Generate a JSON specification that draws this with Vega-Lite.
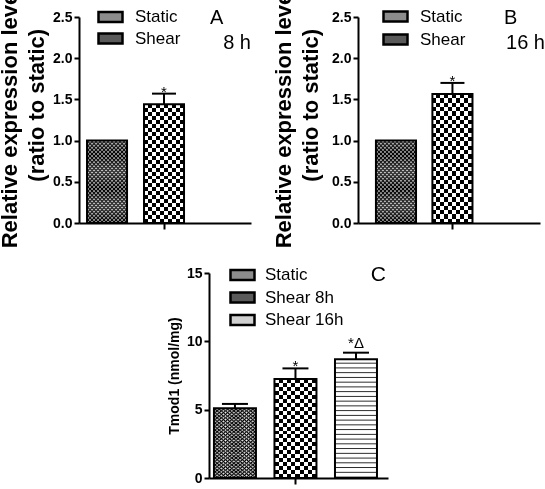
{
"$schema":"https://vega.github.io/schema/vega-lite/v6.json",
"padding":{"left":-2,"top":-14,"right":0,"bottom":0},
"background":"white",
"config":{
 "view":{"stroke":null},
 "font":"Liberation Sans",
 "axis":{"domainColor":"#000","domainWidth":2,"tickColor":"#000","tickWidth":2,"tickSize":5,"labelColor":"#000","labelFont":"Liberation Sans","labelFontWeight":"bold","labelFontSize":14,"labelPadding":2,"titleColor":"#000","titleFont":"Liberation Sans","titleFontWeight":"bold","grid":false,"labelOverlap":false},
 "legend":{"padding":0,"labelFont":"Liberation Sans","labelFontSize":17,"labelColor":"#000","symbolStrokeColor":"#000","symbolStrokeWidth":2.5,"symbolType":"M-2.4,-1H2.4V1H-2.4Z","symbolSize":100,"labelOffset":16,"rowPadding":2,"symbolOpacity":1}
},
"datasets":{
 "a":[{"group":"Static","value":1.0},{"group":"Shear","value":1.44,"upper":1.57,"sig":"*"}],
 "b":[{"group":"Static","value":1.0},{"group":"Shear","value":1.565,"upper":1.70,"sig":"*"}],
 "c":[{"group":"Static","value":5.1,"upper":5.42},{"group":"Shear 8h","value":7.24,"upper":8.02,"sig":"*"},{"group":"Shear 16h","value":8.68,"upper":9.17,"sig":"*Δ"}],
 "empty":[]
},
"spacing":16,
"resolve":{"legend":{"color":"independent"}},
"vconcat":[
 {"spacing":21,"resolve":{"legend":{"color":"independent"}},"hconcat":[
  {"width":172,"height":206,"data":{"name":"a"},
   "title":{"text":["A\u00a0\u00a0\u00a0\u00a0\u00a0\u200b","8 h"],"anchor":"end","frame":"group","orient":"top","offset":-67,"baseline":"top","fontSize":20,"fontWeight":"normal","lineHeight":25,"color":"#000","font":"Liberation Sans"},
   "encoding":{"x":{"field":"group","type":"nominal","scale":{"domain":["Static","Shear"],"paddingInner":0.298,"paddingOuter":0.658,"align":0.107},"axis":{"values":["Shear"],"labels":false,"title":null,"tickSize":6}}},
   "layer":[
    {"mark":{"type":"bar"},"encoding":{
      "y":{"field":"value","type":"quantitative","scale":{"domain":[0,2.5],"nice":false},"axis":{"title":["Relative expression level","\u200b\u00a0\u00a0\u00a0\u00a0(ratio to static)"],"titleFontSize":22,"titleLineHeight":27,"titleY":100,"titlePadding":4,"values":[0,0.25,0.5,0.75,1,1.25,1.5,1.75,2,2.25,2.5],"labelExpr":"datum.value % 0.5 === 0 ? format(datum.value, '.1f') : ''"}},
      "color":{"field":"group","type":"nominal","scale":{"domain":["Static","Shear","Shear 8h","Shear 16h"],"range":["#8c8c8c","#5a5a5a","#5a5a5a","#d0d0d0"]},"legend":{"values":["Static","Shear"],"orient":"none","legendX":23,"legendY":-8.5,"rowPadding":0.5,"title":null}}}},
    {"transform":[{"filter":"datum.group === 'Static'"}],"mark":{"type":"bar","fill":{"gradient":"linear","x1":0,"y1":0,"x2":1,"y2":0,"stops":[{"offset":0.025,"color":"#000"},{"offset":0.075,"color":"#fff"},{"offset":0.125,"color":"#000"},{"offset":0.175,"color":"#fff"},{"offset":0.225,"color":"#000"},{"offset":0.275,"color":"#fff"},{"offset":0.325,"color":"#000"},{"offset":0.375,"color":"#fff"},{"offset":0.425,"color":"#000"},{"offset":0.475,"color":"#fff"},{"offset":0.525,"color":"#000"},{"offset":0.575,"color":"#fff"},{"offset":0.625,"color":"#000"},{"offset":0.675,"color":"#fff"},{"offset":0.725,"color":"#000"},{"offset":0.775,"color":"#fff"},{"offset":0.825,"color":"#000"},{"offset":0.875,"color":"#fff"},{"offset":0.925,"color":"#000"},{"offset":0.975,"color":"#fff"}]}},"encoding":{"y":{"field":"value","type":"quantitative"}}},
    {"transform":[{"filter":"datum.group === 'Shear'"}],"mark":{"type":"bar","fill":{"gradient":"linear","x1":0,"y1":0,"x2":1,"y2":0,"stops":[{"offset":0,"color":"#000"},{"offset":0.1,"color":"#000"},{"offset":0.1,"color":"#fff"},{"offset":0.2,"color":"#fff"},{"offset":0.2,"color":"#000"},{"offset":0.3,"color":"#000"},{"offset":0.3,"color":"#fff"},{"offset":0.4,"color":"#fff"},{"offset":0.4,"color":"#000"},{"offset":0.5,"color":"#000"},{"offset":0.5,"color":"#fff"},{"offset":0.6,"color":"#fff"},{"offset":0.6,"color":"#000"},{"offset":0.7,"color":"#000"},{"offset":0.7,"color":"#fff"},{"offset":0.8,"color":"#fff"},{"offset":0.8,"color":"#000"},{"offset":0.9,"color":"#000"},{"offset":0.9,"color":"#fff"},{"offset":1,"color":"#fff"}]}},"encoding":{"y":{"field":"value","type":"quantitative"}}},
    {"transform":[{"filter":"datum.group === 'Static'"}],"mark":{"type":"bar","blend":"difference","fill":{"gradient":"linear","x1":0,"y1":0,"x2":0,"y2":1,"stops":[{"offset":0.0125,"color":"#000"},{"offset":0.0375,"color":"#fff"},{"offset":0.0625,"color":"#000"},{"offset":0.0875,"color":"#fff"},{"offset":0.1125,"color":"#000"},{"offset":0.1375,"color":"#fff"},{"offset":0.1625,"color":"#000"},{"offset":0.1875,"color":"#fff"},{"offset":0.2125,"color":"#000"},{"offset":0.2375,"color":"#fff"},{"offset":0.2625,"color":"#000"},{"offset":0.2875,"color":"#fff"},{"offset":0.3125,"color":"#000"},{"offset":0.3375,"color":"#fff"},{"offset":0.3625,"color":"#000"},{"offset":0.3875,"color":"#fff"},{"offset":0.4125,"color":"#000"},{"offset":0.4375,"color":"#fff"},{"offset":0.4625,"color":"#000"},{"offset":0.4875,"color":"#fff"},{"offset":0.5125,"color":"#000"},{"offset":0.5375,"color":"#fff"},{"offset":0.5625,"color":"#000"},{"offset":0.5875,"color":"#fff"},{"offset":0.6125,"color":"#000"},{"offset":0.6375,"color":"#fff"},{"offset":0.6625,"color":"#000"},{"offset":0.6875,"color":"#fff"},{"offset":0.7125,"color":"#000"},{"offset":0.7375,"color":"#fff"},{"offset":0.7625,"color":"#000"},{"offset":0.7875,"color":"#fff"},{"offset":0.8125,"color":"#000"},{"offset":0.8375,"color":"#fff"},{"offset":0.8625,"color":"#000"},{"offset":0.8875,"color":"#fff"},{"offset":0.9125,"color":"#000"},{"offset":0.9375,"color":"#fff"},{"offset":0.9625,"color":"#000"},{"offset":0.9875,"color":"#fff"}]}},"encoding":{"y":{"field":"value","type":"quantitative"}}},
    {"transform":[{"filter":"datum.group === 'Shear'"}],"mark":{"type":"bar","blend":"difference","fill":{"gradient":"linear","x1":0,"y1":0,"x2":0,"y2":1,"stops":[{"offset":0,"color":"#fff"},{"offset":0.0333,"color":"#fff"},{"offset":0.0333,"color":"#000"},{"offset":0.0667,"color":"#000"},{"offset":0.0667,"color":"#fff"},{"offset":0.1,"color":"#fff"},{"offset":0.1,"color":"#000"},{"offset":0.1333,"color":"#000"},{"offset":0.1333,"color":"#fff"},{"offset":0.1667,"color":"#fff"},{"offset":0.1667,"color":"#000"},{"offset":0.2,"color":"#000"},{"offset":0.2,"color":"#fff"},{"offset":0.2333,"color":"#fff"},{"offset":0.2333,"color":"#000"},{"offset":0.2667,"color":"#000"},{"offset":0.2667,"color":"#fff"},{"offset":0.3,"color":"#fff"},{"offset":0.3,"color":"#000"},{"offset":0.3333,"color":"#000"},{"offset":0.3333,"color":"#fff"},{"offset":0.3667,"color":"#fff"},{"offset":0.3667,"color":"#000"},{"offset":0.4,"color":"#000"},{"offset":0.4,"color":"#fff"},{"offset":0.4333,"color":"#fff"},{"offset":0.4333,"color":"#000"},{"offset":0.4667,"color":"#000"},{"offset":0.4667,"color":"#fff"},{"offset":0.5,"color":"#fff"},{"offset":0.5,"color":"#000"},{"offset":0.5333,"color":"#000"},{"offset":0.5333,"color":"#fff"},{"offset":0.5667,"color":"#fff"},{"offset":0.5667,"color":"#000"},{"offset":0.6,"color":"#000"},{"offset":0.6,"color":"#fff"},{"offset":0.6333,"color":"#fff"},{"offset":0.6333,"color":"#000"},{"offset":0.6667,"color":"#000"},{"offset":0.6667,"color":"#fff"},{"offset":0.7,"color":"#fff"},{"offset":0.7,"color":"#000"},{"offset":0.7333,"color":"#000"},{"offset":0.7333,"color":"#fff"},{"offset":0.7667,"color":"#fff"},{"offset":0.7667,"color":"#000"},{"offset":0.8,"color":"#000"},{"offset":0.8,"color":"#fff"},{"offset":0.8333,"color":"#fff"},{"offset":0.8333,"color":"#000"},{"offset":0.8667,"color":"#000"},{"offset":0.8667,"color":"#fff"},{"offset":0.9,"color":"#fff"},{"offset":0.9,"color":"#000"},{"offset":0.9333,"color":"#000"},{"offset":0.9333,"color":"#fff"},{"offset":0.9667,"color":"#fff"},{"offset":0.9667,"color":"#000"},{"offset":1,"color":"#000"}]}},"encoding":{"y":{"field":"value","type":"quantitative"}}},
    {"mark":{"type":"bar","fill":"transparent","stroke":"#000","strokeWidth":2},"encoding":{"y":{"field":"value","type":"quantitative"}}},
    {"transform":[{"filter":"isValid(datum.upper)"}],"mark":{"type":"rule","color":"#000","strokeWidth":2},"encoding":{"y":{"field":"value","type":"quantitative"},"y2":{"field":"upper"}}},
    {"transform":[{"filter":"isValid(datum.upper)"}],"mark":{"type":"tick","orient":"horizontal","color":"#000","thickness":2,"size":24,"opacity":1},"encoding":{"y":{"field":"upper","type":"quantitative"}}},
    {"transform":[{"filter":"datum.sig === '*'"}],"mark":{"type":"text","fontSize":15,"dy":3,"baseline":"alphabetic","color":"#000","font":"Liberation Sans"},"encoding":{"y":{"field":"upper","type":"quantitative"},"text":{"field":"sig"}}}
   ]},
  {"width":182,"height":206,"data":{"name":"b"},
   "title":{"text":["B\u00a0\u00a0\u00a0\u00a0\u00a0\u200b","16 h"],"anchor":"end","frame":"group","orient":"top","offset":-67,"dx":5,"baseline":"top","fontSize":20,"fontWeight":"normal","lineHeight":25,"color":"#000","font":"Liberation Sans"},
   "encoding":{"x":{"field":"group","type":"nominal","scale":{"domain":["Static","Shear"],"paddingInner":0.29,"paddingOuter":0.757,"align":0.21},"axis":{"values":["Shear"],"labels":false,"title":null,"tickSize":6}}},
   "layer":[
    {"mark":{"type":"bar"},"encoding":{
      "y":{"field":"value","type":"quantitative","scale":{"domain":[0,2.5],"nice":false},"axis":{"title":["Relative expression level","\u200b\u00a0\u00a0\u00a0\u00a0(ratio to static)"],"titleFontSize":22,"titleLineHeight":27,"titleY":100,"titlePadding":9,"values":[0,0.25,0.5,0.75,1,1.25,1.5,1.75,2,2.25,2.5],"labelExpr":"datum.value % 0.5 === 0 ? format(datum.value, '.1f') : ''"}},
      "color":{"field":"group","type":"nominal","scale":{"domain":["Static","Shear","Shear 8h","Shear 16h"],"range":["#8c8c8c","#5a5a5a","#5a5a5a","#d0d0d0"]},"legend":{"values":["Static","Shear"],"orient":"none","legendX":29,"legendY":-9,"title":null}}}},
    {"transform":[{"filter":"datum.group === 'Static'"}],"mark":{"type":"bar","fill":{"gradient":"linear","x1":0,"y1":0,"x2":1,"y2":0,"stops":[{"offset":0.025,"color":"#000"},{"offset":0.075,"color":"#fff"},{"offset":0.125,"color":"#000"},{"offset":0.175,"color":"#fff"},{"offset":0.225,"color":"#000"},{"offset":0.275,"color":"#fff"},{"offset":0.325,"color":"#000"},{"offset":0.375,"color":"#fff"},{"offset":0.425,"color":"#000"},{"offset":0.475,"color":"#fff"},{"offset":0.525,"color":"#000"},{"offset":0.575,"color":"#fff"},{"offset":0.625,"color":"#000"},{"offset":0.675,"color":"#fff"},{"offset":0.725,"color":"#000"},{"offset":0.775,"color":"#fff"},{"offset":0.825,"color":"#000"},{"offset":0.875,"color":"#fff"},{"offset":0.925,"color":"#000"},{"offset":0.975,"color":"#fff"}]}},"encoding":{"y":{"field":"value","type":"quantitative"}}},
    {"transform":[{"filter":"datum.group === 'Shear'"}],"mark":{"type":"bar","fill":{"gradient":"linear","x1":0,"y1":0,"x2":1,"y2":0,"stops":[{"offset":0,"color":"#000"},{"offset":0.1,"color":"#000"},{"offset":0.1,"color":"#fff"},{"offset":0.2,"color":"#fff"},{"offset":0.2,"color":"#000"},{"offset":0.3,"color":"#000"},{"offset":0.3,"color":"#fff"},{"offset":0.4,"color":"#fff"},{"offset":0.4,"color":"#000"},{"offset":0.5,"color":"#000"},{"offset":0.5,"color":"#fff"},{"offset":0.6,"color":"#fff"},{"offset":0.6,"color":"#000"},{"offset":0.7,"color":"#000"},{"offset":0.7,"color":"#fff"},{"offset":0.8,"color":"#fff"},{"offset":0.8,"color":"#000"},{"offset":0.9,"color":"#000"},{"offset":0.9,"color":"#fff"},{"offset":1,"color":"#fff"}]}},"encoding":{"y":{"field":"value","type":"quantitative"}}},
    {"transform":[{"filter":"datum.group === 'Static'"}],"mark":{"type":"bar","blend":"difference","fill":{"gradient":"linear","x1":0,"y1":0,"x2":0,"y2":1,"stops":[{"offset":0.0125,"color":"#000"},{"offset":0.0375,"color":"#fff"},{"offset":0.0625,"color":"#000"},{"offset":0.0875,"color":"#fff"},{"offset":0.1125,"color":"#000"},{"offset":0.1375,"color":"#fff"},{"offset":0.1625,"color":"#000"},{"offset":0.1875,"color":"#fff"},{"offset":0.2125,"color":"#000"},{"offset":0.2375,"color":"#fff"},{"offset":0.2625,"color":"#000"},{"offset":0.2875,"color":"#fff"},{"offset":0.3125,"color":"#000"},{"offset":0.3375,"color":"#fff"},{"offset":0.3625,"color":"#000"},{"offset":0.3875,"color":"#fff"},{"offset":0.4125,"color":"#000"},{"offset":0.4375,"color":"#fff"},{"offset":0.4625,"color":"#000"},{"offset":0.4875,"color":"#fff"},{"offset":0.5125,"color":"#000"},{"offset":0.5375,"color":"#fff"},{"offset":0.5625,"color":"#000"},{"offset":0.5875,"color":"#fff"},{"offset":0.6125,"color":"#000"},{"offset":0.6375,"color":"#fff"},{"offset":0.6625,"color":"#000"},{"offset":0.6875,"color":"#fff"},{"offset":0.7125,"color":"#000"},{"offset":0.7375,"color":"#fff"},{"offset":0.7625,"color":"#000"},{"offset":0.7875,"color":"#fff"},{"offset":0.8125,"color":"#000"},{"offset":0.8375,"color":"#fff"},{"offset":0.8625,"color":"#000"},{"offset":0.8875,"color":"#fff"},{"offset":0.9125,"color":"#000"},{"offset":0.9375,"color":"#fff"},{"offset":0.9625,"color":"#000"},{"offset":0.9875,"color":"#fff"}]}},"encoding":{"y":{"field":"value","type":"quantitative"}}},
    {"transform":[{"filter":"datum.group === 'Shear'"}],"mark":{"type":"bar","blend":"difference","fill":{"gradient":"linear","x1":0,"y1":0,"x2":0,"y2":1,"stops":[{"offset":0,"color":"#fff"},{"offset":0.0333,"color":"#fff"},{"offset":0.0333,"color":"#000"},{"offset":0.0667,"color":"#000"},{"offset":0.0667,"color":"#fff"},{"offset":0.1,"color":"#fff"},{"offset":0.1,"color":"#000"},{"offset":0.1333,"color":"#000"},{"offset":0.1333,"color":"#fff"},{"offset":0.1667,"color":"#fff"},{"offset":0.1667,"color":"#000"},{"offset":0.2,"color":"#000"},{"offset":0.2,"color":"#fff"},{"offset":0.2333,"color":"#fff"},{"offset":0.2333,"color":"#000"},{"offset":0.2667,"color":"#000"},{"offset":0.2667,"color":"#fff"},{"offset":0.3,"color":"#fff"},{"offset":0.3,"color":"#000"},{"offset":0.3333,"color":"#000"},{"offset":0.3333,"color":"#fff"},{"offset":0.3667,"color":"#fff"},{"offset":0.3667,"color":"#000"},{"offset":0.4,"color":"#000"},{"offset":0.4,"color":"#fff"},{"offset":0.4333,"color":"#fff"},{"offset":0.4333,"color":"#000"},{"offset":0.4667,"color":"#000"},{"offset":0.4667,"color":"#fff"},{"offset":0.5,"color":"#fff"},{"offset":0.5,"color":"#000"},{"offset":0.5333,"color":"#000"},{"offset":0.5333,"color":"#fff"},{"offset":0.5667,"color":"#fff"},{"offset":0.5667,"color":"#000"},{"offset":0.6,"color":"#000"},{"offset":0.6,"color":"#fff"},{"offset":0.6333,"color":"#fff"},{"offset":0.6333,"color":"#000"},{"offset":0.6667,"color":"#000"},{"offset":0.6667,"color":"#fff"},{"offset":0.7,"color":"#fff"},{"offset":0.7,"color":"#000"},{"offset":0.7333,"color":"#000"},{"offset":0.7333,"color":"#fff"},{"offset":0.7667,"color":"#fff"},{"offset":0.7667,"color":"#000"},{"offset":0.8,"color":"#000"},{"offset":0.8,"color":"#fff"},{"offset":0.8333,"color":"#fff"},{"offset":0.8333,"color":"#000"},{"offset":0.8667,"color":"#000"},{"offset":0.8667,"color":"#fff"},{"offset":0.9,"color":"#fff"},{"offset":0.9,"color":"#000"},{"offset":0.9333,"color":"#000"},{"offset":0.9333,"color":"#fff"},{"offset":0.9667,"color":"#fff"},{"offset":0.9667,"color":"#000"},{"offset":1,"color":"#000"}]}},"encoding":{"y":{"field":"value","type":"quantitative"}}},
    {"mark":{"type":"bar","fill":"transparent","stroke":"#000","strokeWidth":2},"encoding":{"y":{"field":"value","type":"quantitative"}}},
    {"transform":[{"filter":"isValid(datum.upper)"}],"mark":{"type":"rule","color":"#000","strokeWidth":2},"encoding":{"y":{"field":"value","type":"quantitative"},"y2":{"field":"upper"}}},
    {"transform":[{"filter":"isValid(datum.upper)"}],"mark":{"type":"tick","orient":"horizontal","color":"#000","thickness":2,"size":24,"opacity":1},"encoding":{"y":{"field":"upper","type":"quantitative"}}},
    {"transform":[{"filter":"datum.sig === '*'"}],"mark":{"type":"text","fontSize":15,"dy":3,"baseline":"alphabetic","color":"#000","font":"Liberation Sans"},"encoding":{"y":{"field":"upper","type":"quantitative"},"text":{"field":"sig"}}}
   ]}
 ]},
 {"spacing":0,"resolve":{"legend":{"color":"independent"}},"hconcat":[
  {"width":88,"height":10,"data":{"name":"empty"},"mark":"point","encoding":{}},
  {"width":179,"height":205,"data":{"name":"c"},
   "title":{"text":"C","anchor":"end","frame":"group","orient":"top","offset":-19,"dx":-2,"baseline":"top","fontSize":21,"fontWeight":"normal","color":"#000","font":"Liberation Sans Narrow, Liberation Sans"},
   "encoding":{"x":{"field":"group","type":"nominal","scale":{"domain":["Static","Shear 8h","Shear 16h"],"paddingInner":0.306,"paddingOuter":0.132,"align":0.31},"axis":{"values":["Shear 8h"],"labels":false,"title":null,"tickSize":6}}},
   "layer":[
    {"mark":{"type":"bar"},"encoding":{
      "y":{"field":"value","type":"quantitative","scale":{"domain":[0,15],"nice":false},"axis":{"title":"Tmod1 (nmol/mg)","titleFontSize":14,"titlePadding":5,"values":[0,5,10,15],"format":"d"}},
      "color":{"field":"group","type":"nominal","scale":{"domain":["Static","Shear","Shear 8h","Shear 16h"],"range":["#8c8c8c","#5a5a5a","#5a5a5a","#d0d0d0"]},"legend":{"values":["Static","Shear 8h","Shear 16h"],"orient":"none","legendX":25,"legendY":-6.5,"labelOffset":14,"rowPadding":1.5,"title":null}}}},
    {"transform":[{"filter":"datum.group === 'Static'"}],"mark":{"type":"bar","fill":{"gradient":"linear","x1":0,"y1":0,"x2":1,"y2":0,"stops":[{"offset":0.025,"color":"#000"},{"offset":0.075,"color":"#fff"},{"offset":0.125,"color":"#000"},{"offset":0.175,"color":"#fff"},{"offset":0.225,"color":"#000"},{"offset":0.275,"color":"#fff"},{"offset":0.325,"color":"#000"},{"offset":0.375,"color":"#fff"},{"offset":0.425,"color":"#000"},{"offset":0.475,"color":"#fff"},{"offset":0.525,"color":"#000"},{"offset":0.575,"color":"#fff"},{"offset":0.625,"color":"#000"},{"offset":0.675,"color":"#fff"},{"offset":0.725,"color":"#000"},{"offset":0.775,"color":"#fff"},{"offset":0.825,"color":"#000"},{"offset":0.875,"color":"#fff"},{"offset":0.925,"color":"#000"},{"offset":0.975,"color":"#fff"}]}},"encoding":{"y":{"field":"value","type":"quantitative"}}},
    {"transform":[{"filter":"datum.group === 'Shear 8h'"}],"mark":{"type":"bar","fill":{"gradient":"linear","x1":0,"y1":0,"x2":1,"y2":0,"stops":[{"offset":0,"color":"#000"},{"offset":0.1,"color":"#000"},{"offset":0.1,"color":"#fff"},{"offset":0.2,"color":"#fff"},{"offset":0.2,"color":"#000"},{"offset":0.3,"color":"#000"},{"offset":0.3,"color":"#fff"},{"offset":0.4,"color":"#fff"},{"offset":0.4,"color":"#000"},{"offset":0.5,"color":"#000"},{"offset":0.5,"color":"#fff"},{"offset":0.6,"color":"#fff"},{"offset":0.6,"color":"#000"},{"offset":0.7,"color":"#000"},{"offset":0.7,"color":"#fff"},{"offset":0.8,"color":"#fff"},{"offset":0.8,"color":"#000"},{"offset":0.9,"color":"#000"},{"offset":0.9,"color":"#fff"},{"offset":1,"color":"#fff"}]}},"encoding":{"y":{"field":"value","type":"quantitative"}}},
    {"transform":[{"filter":"datum.group === 'Shear 16h'"}],"mark":{"type":"bar","fill":{"gradient":"linear","x1":0,"y1":0,"x2":0,"y2":1,"stops":[{"offset":0,"color":"#fff"},{"offset":0.024,"color":"#fff"},{"offset":0.032,"color":"#222"},{"offset":0.04,"color":"#fff"},{"offset":0.064,"color":"#fff"},{"offset":0.072,"color":"#222"},{"offset":0.08,"color":"#fff"},{"offset":0.104,"color":"#fff"},{"offset":0.112,"color":"#222"},{"offset":0.12,"color":"#fff"},{"offset":0.144,"color":"#fff"},{"offset":0.152,"color":"#222"},{"offset":0.16,"color":"#fff"},{"offset":0.184,"color":"#fff"},{"offset":0.192,"color":"#222"},{"offset":0.2,"color":"#fff"},{"offset":0.224,"color":"#fff"},{"offset":0.232,"color":"#222"},{"offset":0.24,"color":"#fff"},{"offset":0.264,"color":"#fff"},{"offset":0.272,"color":"#222"},{"offset":0.28,"color":"#fff"},{"offset":0.304,"color":"#fff"},{"offset":0.312,"color":"#222"},{"offset":0.32,"color":"#fff"},{"offset":0.344,"color":"#fff"},{"offset":0.352,"color":"#222"},{"offset":0.36,"color":"#fff"},{"offset":0.384,"color":"#fff"},{"offset":0.392,"color":"#222"},{"offset":0.4,"color":"#fff"},{"offset":0.424,"color":"#fff"},{"offset":0.432,"color":"#222"},{"offset":0.44,"color":"#fff"},{"offset":0.464,"color":"#fff"},{"offset":0.472,"color":"#222"},{"offset":0.48,"color":"#fff"},{"offset":0.504,"color":"#fff"},{"offset":0.512,"color":"#222"},{"offset":0.52,"color":"#fff"},{"offset":0.544,"color":"#fff"},{"offset":0.552,"color":"#222"},{"offset":0.56,"color":"#fff"},{"offset":0.584,"color":"#fff"},{"offset":0.592,"color":"#222"},{"offset":0.6,"color":"#fff"},{"offset":0.624,"color":"#fff"},{"offset":0.632,"color":"#222"},{"offset":0.64,"color":"#fff"},{"offset":0.664,"color":"#fff"},{"offset":0.672,"color":"#222"},{"offset":0.68,"color":"#fff"},{"offset":0.704,"color":"#fff"},{"offset":0.712,"color":"#222"},{"offset":0.72,"color":"#fff"},{"offset":0.744,"color":"#fff"},{"offset":0.752,"color":"#222"},{"offset":0.76,"color":"#fff"},{"offset":0.784,"color":"#fff"},{"offset":0.792,"color":"#222"},{"offset":0.8,"color":"#fff"},{"offset":0.824,"color":"#fff"},{"offset":0.832,"color":"#222"},{"offset":0.84,"color":"#fff"},{"offset":0.864,"color":"#fff"},{"offset":0.872,"color":"#222"},{"offset":0.88,"color":"#fff"},{"offset":0.904,"color":"#fff"},{"offset":0.912,"color":"#222"},{"offset":0.92,"color":"#fff"},{"offset":0.944,"color":"#fff"},{"offset":0.952,"color":"#222"},{"offset":0.96,"color":"#fff"},{"offset":0.984,"color":"#fff"},{"offset":0.992,"color":"#222"},{"offset":1,"color":"#fff"}]}},"encoding":{"y":{"field":"value","type":"quantitative"}}},
    {"transform":[{"filter":"datum.group === 'Static'"}],"mark":{"type":"bar","blend":"difference","fill":{"gradient":"linear","x1":0,"y1":0,"x2":0,"y2":1,"stops":[{"offset":0.0125,"color":"#000"},{"offset":0.0375,"color":"#fff"},{"offset":0.0625,"color":"#000"},{"offset":0.0875,"color":"#fff"},{"offset":0.1125,"color":"#000"},{"offset":0.1375,"color":"#fff"},{"offset":0.1625,"color":"#000"},{"offset":0.1875,"color":"#fff"},{"offset":0.2125,"color":"#000"},{"offset":0.2375,"color":"#fff"},{"offset":0.2625,"color":"#000"},{"offset":0.2875,"color":"#fff"},{"offset":0.3125,"color":"#000"},{"offset":0.3375,"color":"#fff"},{"offset":0.3625,"color":"#000"},{"offset":0.3875,"color":"#fff"},{"offset":0.4125,"color":"#000"},{"offset":0.4375,"color":"#fff"},{"offset":0.4625,"color":"#000"},{"offset":0.4875,"color":"#fff"},{"offset":0.5125,"color":"#000"},{"offset":0.5375,"color":"#fff"},{"offset":0.5625,"color":"#000"},{"offset":0.5875,"color":"#fff"},{"offset":0.6125,"color":"#000"},{"offset":0.6375,"color":"#fff"},{"offset":0.6625,"color":"#000"},{"offset":0.6875,"color":"#fff"},{"offset":0.7125,"color":"#000"},{"offset":0.7375,"color":"#fff"},{"offset":0.7625,"color":"#000"},{"offset":0.7875,"color":"#fff"},{"offset":0.8125,"color":"#000"},{"offset":0.8375,"color":"#fff"},{"offset":0.8625,"color":"#000"},{"offset":0.8875,"color":"#fff"},{"offset":0.9125,"color":"#000"},{"offset":0.9375,"color":"#fff"},{"offset":0.9625,"color":"#000"},{"offset":0.9875,"color":"#fff"}]}},"encoding":{"y":{"field":"value","type":"quantitative"}}},
    {"transform":[{"filter":"datum.group === 'Shear 8h'"}],"mark":{"type":"bar","blend":"difference","fill":{"gradient":"linear","x1":0,"y1":0,"x2":0,"y2":1,"stops":[{"offset":0,"color":"#fff"},{"offset":0.04,"color":"#fff"},{"offset":0.04,"color":"#000"},{"offset":0.08,"color":"#000"},{"offset":0.08,"color":"#fff"},{"offset":0.12,"color":"#fff"},{"offset":0.12,"color":"#000"},{"offset":0.16,"color":"#000"},{"offset":0.16,"color":"#fff"},{"offset":0.2,"color":"#fff"},{"offset":0.2,"color":"#000"},{"offset":0.24,"color":"#000"},{"offset":0.24,"color":"#fff"},{"offset":0.28,"color":"#fff"},{"offset":0.28,"color":"#000"},{"offset":0.32,"color":"#000"},{"offset":0.32,"color":"#fff"},{"offset":0.36,"color":"#fff"},{"offset":0.36,"color":"#000"},{"offset":0.4,"color":"#000"},{"offset":0.4,"color":"#fff"},{"offset":0.44,"color":"#fff"},{"offset":0.44,"color":"#000"},{"offset":0.48,"color":"#000"},{"offset":0.48,"color":"#fff"},{"offset":0.52,"color":"#fff"},{"offset":0.52,"color":"#000"},{"offset":0.56,"color":"#000"},{"offset":0.56,"color":"#fff"},{"offset":0.6,"color":"#fff"},{"offset":0.6,"color":"#000"},{"offset":0.64,"color":"#000"},{"offset":0.64,"color":"#fff"},{"offset":0.68,"color":"#fff"},{"offset":0.68,"color":"#000"},{"offset":0.72,"color":"#000"},{"offset":0.72,"color":"#fff"},{"offset":0.76,"color":"#fff"},{"offset":0.76,"color":"#000"},{"offset":0.8,"color":"#000"},{"offset":0.8,"color":"#fff"},{"offset":0.84,"color":"#fff"},{"offset":0.84,"color":"#000"},{"offset":0.88,"color":"#000"},{"offset":0.88,"color":"#fff"},{"offset":0.92,"color":"#fff"},{"offset":0.92,"color":"#000"},{"offset":0.96,"color":"#000"},{"offset":0.96,"color":"#fff"},{"offset":1,"color":"#fff"}]}},"encoding":{"y":{"field":"value","type":"quantitative"}}},
    {"mark":{"type":"bar","fill":"transparent","stroke":"#000","strokeWidth":2},"encoding":{"y":{"field":"value","type":"quantitative"}}},
    {"transform":[{"filter":"isValid(datum.upper)"}],"mark":{"type":"rule","color":"#000","strokeWidth":2},"encoding":{"y":{"field":"value","type":"quantitative"},"y2":{"field":"upper"}}},
    {"transform":[{"filter":"isValid(datum.upper)"}],"mark":{"type":"tick","orient":"horizontal","color":"#000","thickness":2,"size":26,"opacity":1},"encoding":{"y":{"field":"upper","type":"quantitative"}}},
    {"transform":[{"filter":"datum.sig === '*'"}],"mark":{"type":"text","fontSize":15,"dy":3,"baseline":"alphabetic","color":"#000","font":"Liberation Sans"},"encoding":{"y":{"field":"upper","type":"quantitative"},"text":{"field":"sig"}}},
    {"transform":[{"filter":"datum.sig === '*Δ'"}],"mark":{"type":"text","fontSize":15,"dy":-5,"baseline":"alphabetic","color":"#000","font":"Liberation Sans"},"encoding":{"y":{"field":"upper","type":"quantitative"},"text":{"field":"sig"}}}
   ]}
 ]}
]
}
